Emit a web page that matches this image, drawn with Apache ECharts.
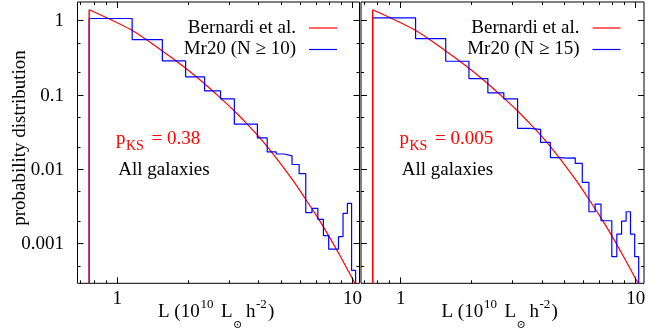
<!DOCTYPE html>
<html>
<head>
<meta charset="utf-8">
<script src="https://cdn.jsdelivr.net/npm/echarts@6/dist/echarts.min.js"></script>
<style>
html, body { margin: 0; padding: 0; background: #fff; }
#c { width: 661px; height: 329px; }
</style>
</head>
<body>
<div id="c"></div>
<script>
// Luminosity bins, L in units of 10^10 Lsun h^-2
const binEdges = [0.76, 1.1575, 1.555, 1.9525, 2.35, 2.7475, 3.145, 3.5425, 3.94, 4.3375,
  4.735, 5.1325, 5.53, 5.9275, 6.325, 6.7225, 7.12, 7.5175, 7.915, 8.3125,
  8.71, 9.1075, 9.505, 9.9025, 10.3];

// Mr20 group galaxies, N >= 10
const histN10 = [1.08, 0.562, 0.29, 0.177, 0.1146, 0.0895, 0.041, 0.041, 0.0267, 0.0173,
  0.0162, 0.0153, 0.0117, 0.0088, 0.00263, 0.0030, 0.00214, 0.00129, 0.00085, 0.00085,
  0.00125, 0.00258, 0.00351, 0.00044];

// Mr20 group galaxies, N >= 15
const histN15 = [1.10, 0.58, 0.287, 0.168, 0.108, 0.0895, 0.0358, 0.0347, 0.0232, 0.0145,
  0.0143, 0.0144, 0.0121, 0.00673, 0.00271, 0.00344, 0.00205, 0.00205, 0.000673, 0.00135,
  0.00203, 0.00271, 0.00135, 0.000673];

// Bernardi et al. luminosity function (normalised above L = 0.76)
const fitL = [0.76, 1.14, 1.539, 1.93, 2.31, 2.72, 3.10, 3.54, 4.03, 4.75, 5.59, 6.26, 7.03, 7.75, 8.83, 10.06, 10.9];
const fitP = [1.419, 0.766, 0.404, 0.239, 0.150, 0.0946, 0.0643, 0.0419, 0.0269, 0.01419, 0.0071, 0.00418, 0.00238, 0.00144, 0.000698, 0.000326, 0.000204];

// Axis ticks and labels
const xMajor = [1, 10];
const xMinor = [0.7, 0.8, 0.9, 2, 3, 4, 5, 6, 7, 8, 9];
const xTickLabels = ['1', '10'];
const yMajor = [1, 0.1, 0.01, 0.001];
const yMinor = [0.5, 0.2, 0.05, 0.02, 0.005, 0.002, 0.0005];
const yTickLabels = ['1', '0.1', '0.01', '0.001'];

// Per-panel texts
const sampleNames = ['Mr20 (N \u2265 10)', 'Mr20 (N \u2265 15)'];
const pksValues = ['0.38', '0.005'];
const fitName = 'Bernardi et al.';
const subsetName = 'All galaxies';
const yTitle = 'probability distribution';

const X_MIN = 0.678, Y_MIN = 0.000295, Y_MAX = 1.8;
const X_MAX = [10.7, 10.85];
const grids = [
  { left: 77.5, top: 2, width: 282, height: 281.3 },
  { left: 361, top: 2, width: 283, height: 281.3 }
];

const SERIF = '"Liberation Serif", "Times New Roman", "DejaVu Serif", serif';
const RED = '#ff0000', BLUE = '#0000ff';

function stepPoints(edges, vals) {
  const pts = [[edges[0], Y_MIN]];
  vals.forEach((v, i) => { pts.push([edges[i], v]); pts.push([edges[i + 1], v]); });
  pts.push([edges[edges.length - 1], Y_MIN]);
  return pts;
}

const hists = [histN10, histN15];
const series = [];
const xAxes = [], yAxes = [];
grids.forEach((g, i) => {
  xAxes.push({ type: 'log', gridIndex: i, min: X_MIN, max: X_MAX[i],
    axisLine: { show: false }, axisTick: { show: false }, axisLabel: { show: false }, splitLine: { show: false } });
  yAxes.push({ type: 'log', gridIndex: i, min: Y_MIN, max: Y_MAX,
    axisLine: { show: false }, axisTick: { show: false }, axisLabel: { show: false }, splitLine: { show: false } });
  series.push({ type: 'line', xAxisIndex: i, yAxisIndex: i, silent: true, showSymbol: false, z: 2,
    smooth: 0.3, data: fitL.map((l, k) => [l, fitP[k]]), lineStyle: { color: RED, width: 1.2 } });
  series.push({ type: 'line', xAxisIndex: i, yAxisIndex: i, silent: true, showSymbol: false, z: 3,
    data: stepPoints(binEdges, hists[i]), lineStyle: { color: BLUE, width: 1.2 } });
  // lower luminosity cut of the fit, drawn over the histogram edge
  series.push({ type: 'line', xAxisIndex: i, yAxisIndex: i, silent: true, showSymbol: false, z: 4,
    data: [[fitL[0], Y_MIN], [fitL[0], fitP[0]]], lineStyle: { color: RED, width: 1.4 } });
});

const chart = echarts.init(document.getElementById('c'));
chart.setOption({
  animation: false,
  backgroundColor: '#fff',
  grid: grids.map(g => Object.assign({ show: true, borderColor: '#000', borderWidth: 1, backgroundColor: 'transparent' }, g)),
  xAxis: xAxes,
  yAxis: yAxes,
  series: series
});

function txt(x, y, text, size, color, align, extra) {
  return Object.assign({ type: 'text', x: x, y: y, silent: true, z: 10,
    style: { text: text, font: size + 'px ' + SERIF, fill: color || '#000',
      align: align || 'left', textAlign: align || 'left', verticalAlign: 'middle', textVerticalAlign: 'middle' } }, extra || {});
}
function seg(x1, y1, x2, y2, color, w) {
  return { type: 'line', silent: true, z: 10, shape: { x1: x1, y1: y1, x2: x2, y2: y2 },
    style: { stroke: color || '#000', lineWidth: w || 1 } };
}
const crisp = v => Math.round(v - 0.5) + 0.5;

const els = [];
grids.forEach((g, i) => {
  const gl = g.left, gr = g.left + g.width, gt = g.top, gb = g.top + g.height;
  const px = v => chart.convertToPixel({ xAxisIndex: i, yAxisIndex: i }, [v, 1])[0];
  const py = v => chart.convertToPixel({ xAxisIndex: i, yAxisIndex: i }, [1, v])[1];
  // x ticks, mirrored on the top border
  xMajor.concat(xMinor).forEach(v => {
    const len = xMajor.indexOf(v) >= 0 ? 6 : 3;
    const x = crisp(px(v));
    els.push(seg(x, gb, x, gb - len));
    els.push(seg(x, gt, x, gt + len));
  });
  // y ticks, mirrored on the right border
  yMajor.concat(yMinor).forEach(v => {
    const len = yMajor.indexOf(v) >= 0 ? 6 : 3;
    const y = crisp(py(v));
    els.push(seg(gl, y, gl + len, y));
    els.push(seg(gr, y, gr - len, y));
  });
  // x tick labels
  xMajor.forEach((v, k) => els.push(txt(px(v), 299, xTickLabels[k], 19, '#000', 'center')));
  // y tick labels on the first panel only
  if (i === 0) {
    yMajor.forEach((v, k) => els.push(txt(64, py(v) + 0.5, yTickLabels[k], 19, '#000', 'right')));
  }
  const dx = gl - grids[0].left;
  // key
  els.push(txt(296 + dx, 28, fitName, 19, '#000', 'right'));
  els.push(seg(309 + dx, 28, 337 + dx, 28, RED, 1.2));
  els.push(txt(296 + dx, 49.5, sampleNames[i], 19, '#000', 'right'));
  els.push(seg(309 + dx, 49.5, 337 + dx, 49.5, BLUE, 1.2));
  // KS probability
  els.push(txt(116 + dx, 138.6, 'p', 19, RED));
  els.push(txt(126 + dx, 146, 'KS', 14, RED));
  els.push(txt(151.5 + dx, 138.6, '= ' + pksValues[i], 19, RED));
  els.push(txt(118.3 + dx, 170.3, subsetName, 19, '#000'));
  // x axis title: L (10^10 Lsun h^-2)
  els.push(txt(158 + dx, 311.6, 'L (10', 19, '#000'));
  els.push(txt(200.5 + dx, 304.6, '10', 13, '#000'));
  els.push(txt(221 + dx, 311.6, 'L', 19, '#000'));
  els.push(txt(233 + dx, 325, '\u2299', 11, '#000'));
  els.push(txt(246 + dx, 311.6, 'h', 19, '#000'));
  els.push(txt(256 + dx, 304.6, '-2', 13, '#000'));
  els.push(txt(268 + dx, 311.6, ')', 19, '#000'));
});
els.push(txt(20.5, 138, yTitle, 19, '#000', 'center', { rotation: Math.PI / 2 }));

chart.setOption({ graphic: { elements: els } });
</script>
</body>
</html>
